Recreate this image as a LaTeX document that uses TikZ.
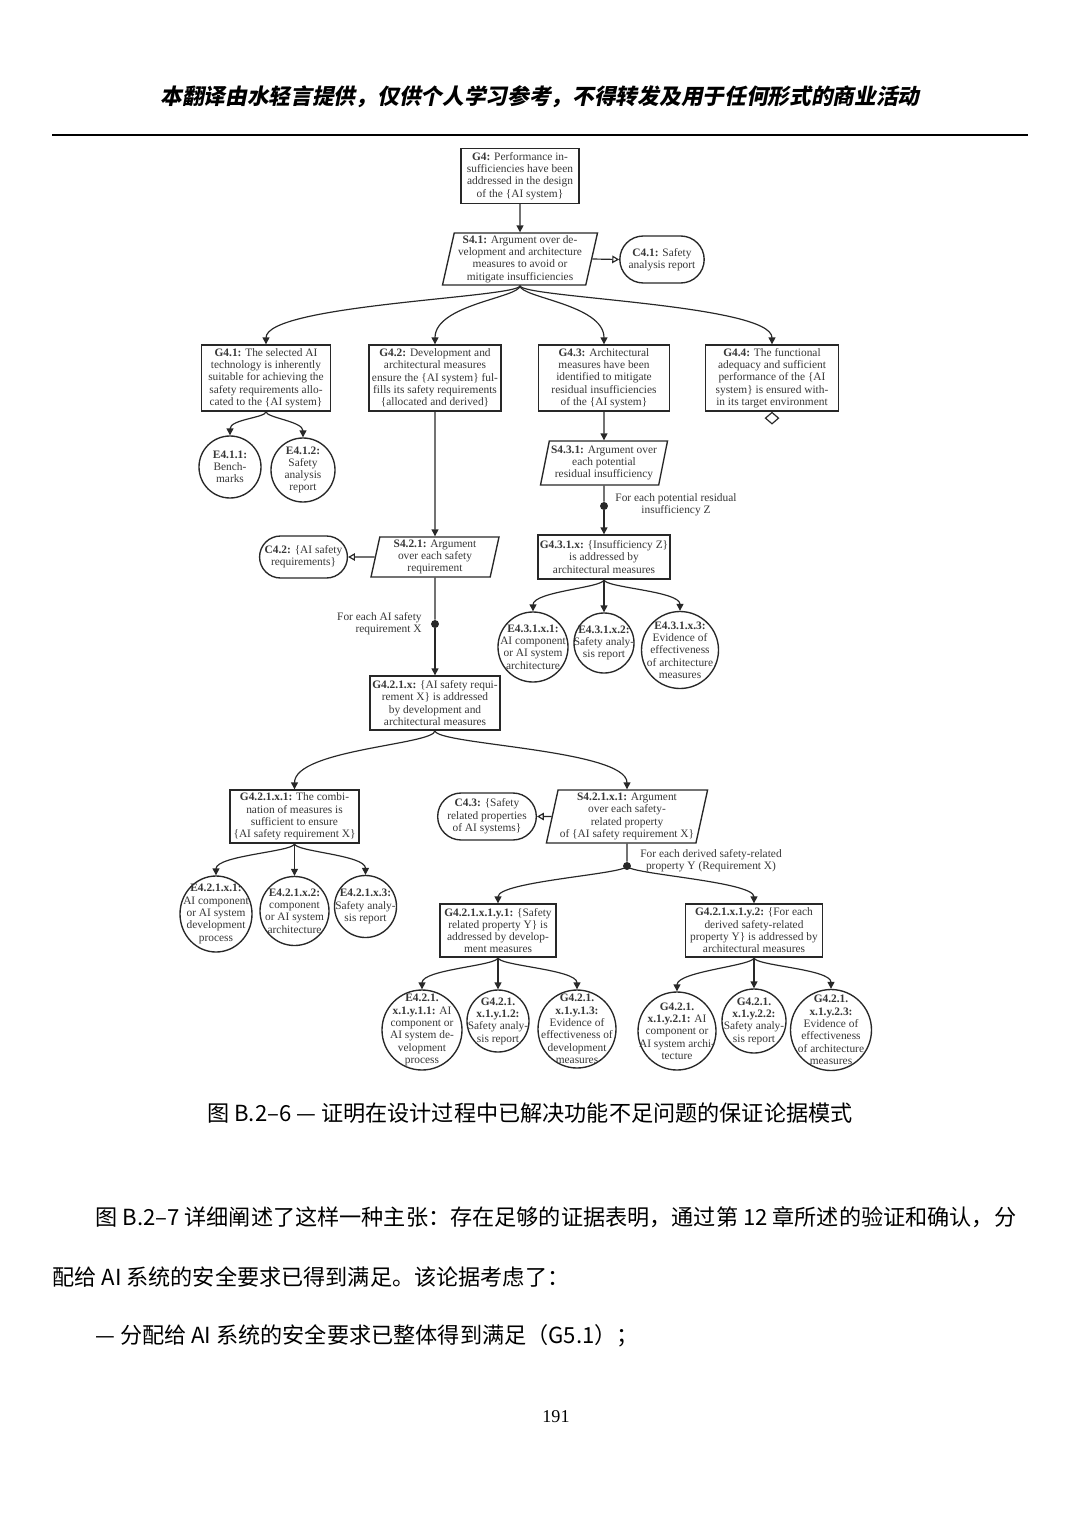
\documentclass[tikz,border=0pt]{standalone}
\usepackage{fontspec}
\setmainfont{Liberation Serif}
\newfontfamily\cjk{Noto Sans CJK SC}
\newfontfamily\cjkhead{Noto Sans CJK SC}[FakeSlant=0.2]
\usetikzlibrary{arrows.meta, shapes.geometric, shapes.misc}

\newcommand{\pxu}{0.5532pt}
\newcommand{\gsnfont}{\fontsize{6.3}{6.8}\selectfont}

\tikzset{
    gsn/.style={draw=gsnline, line width=0.75pt, fill=white, align=center, text=gsntext, font=\gsnfont, inner sep=1pt},
    goal/.style={gsn, rectangle},
    strat/.style={gsn, trapezium, trapezium left angle=77, trapezium right angle=103, trapezium stretches body},
    ctx/.style={gsn, rounded rectangle},
    evid/.style={gsn, circle, inner sep=-12pt},
    note/.style={align=center, text=gsntext, font=\gsnfont},
    fordot/.style={circle, fill=gsnline, inner sep=0pt, minimum size=4.4pt},
    link/.style={draw=gsnline, line width=0.65pt},
    arr/.style={link, -{Triangle[length=3.8pt,width=3.8pt]}},
    ctxarr/.style={link, -{Triangle[open,length=3.8pt,width=4.2pt]}},
    branch/.style 2 args={to path={.. controls +(0,#1) and +(0,-#2) .. (\tikztotarget) \tikztonodes}},
    cjkbody/.style={font=\cjk\fontsize{12.25}{14}\selectfont, inner sep=0pt}
}

\begin{document}
\begin{tikzpicture}[x=\pxu, y=-\pxu]
    \definecolor{gsnline}{RGB}{40,40,40}
    \definecolor{gsntext}{RGB}{55,55,55}

    \useasboundingbox (0,0) rectangle (1080,1527);
    \fill[white] (0,0) rectangle (1080,1527);

    % page header
    \node[font=\cjkhead\bfseries\fontsize{12}{14}\selectfont] (header) at (540,97) {本翻译由水轻言提供，仅供个人学习参考，不得转发及用于任何形式的商业活动};
    \draw[line width=1.1pt] (52,135) -- (1028,135);

    % top of the pattern
    \node[goal, minimum width=118*\pxu, minimum height=55*\pxu] (g4) at (520,176) {\textbf{G4:} Performance in-\\sufficiencies have been\\addressed in the design\\of the \{AI system\}};
    \node[strat, minimum width=155*\pxu, minimum height=52*\pxu] (s41) at (520,259) {\textbf{S4.1:} Argument over de-\\velopment and architecture\\measures to avoid or\\mitigate insufficiencies};
    \node[ctx, minimum width=88*\pxu, minimum height=47*\pxu] (c41) at (662,259.5) {\textbf{C4.1:} Safety\\analysis report};

    \node[goal, minimum width=129*\pxu, minimum height=66*\pxu] (g41) at (266,378) {\textbf{G4.1:} The selected AI\\technology is inherently\\suitable for achieving the\\safety requirements allo-\\cated to the \{AI system\}};
    \node[goal, minimum width=132*\pxu, minimum height=66*\pxu] (g42) at (435,378) {\textbf{G4.2:} Development and\\architectural measures\\ensure the \{AI system\} ful-\\fills its safety requirements\\\{allocated and derived\}};
    \node[goal, minimum width=131*\pxu, minimum height=66*\pxu] (g43) at (604,378) {\textbf{G4.3:} Architectural\\measures have been\\identified to mitigate\\residual insufficiencies\\of the \{AI system\}};
    \node[goal, minimum width=133*\pxu, minimum height=66*\pxu] (g44) at (772,378) {\textbf{G4.4:} The functional\\adequacy and sufficient\\performance of the \{AI\\system\} is ensured with-\\in its target environment};
    \node[diamond, draw=gsnline, line width=0.65pt, inner sep=0pt, minimum width=7.5pt, minimum height=6.5pt, anchor=north] (g44u) at (g44.south) {};

    % G4.1 evidence
    \node[evid, minimum size=62*\pxu] (e411) at (230,467) {\textbf{E4.1.1:}\\Bench-\\marks};
    \node[evid, minimum size=64*\pxu] (e412) at (303,470) {\textbf{E4.1.2:}\\Safety\\analysis\\report};

    % G4.3 branch
    \node[strat, minimum width=121*\pxu, minimum height=44*\pxu] (s431) at (604,463) {\textbf{S4.3.1:} Argument over\\each potential\\residual insufficiency};
    \node[fordot] (d431) at (604,506) {};
    \node[note] (n431) at (676,505) {For each potential residual\\insufficiency Z};
    \node[goal, minimum width=128*\pxu, minimum height=44*\pxu] (g431x) at (604,557) {\textbf{G4.3.1.x:} \{Insufficiency Z\}\\is addressed by\\architectural measures};
    \node[evid, minimum size=70*\pxu] (e431x1) at (533,647) {\textbf{E4.3.1.x.1:}\\AI component\\or AI system\\architecture};
    \node[evid, minimum size=60*\pxu] (e431x2) at (604,643) {\textbf{E4.3.1.x.2:}\\Safety analy-\\sis report};
    \node[evid, minimum size=77*\pxu] (e431x3) at (680,650) {\textbf{E4.3.1.x.3:}\\Evidence of\\effectiveness\\of architecture\\measures};

    % G4.2 branch
    \node[strat, minimum width=128*\pxu, minimum height=40*\pxu] (s421) at (435,557) {\textbf{S4.2.1:} Argument\\over each safety\\requirement};
    \node[ctx, minimum width=87*\pxu, minimum height=42*\pxu] (c42) at (303.5,557) {\textbf{C4.2:} \{AI safety\\requirements\}};
    \node[fordot] (d421) at (435,624) {};
    \node[note, align=right, anchor=east] (n421) at (428,624) {For each AI safety\\requirement X};
    \node[goal, minimum width=130*\pxu, minimum height=54*\pxu] (g421x) at (435,703) {\textbf{G4.2.1.x:} \{AI safety requi-\\rement X\} is addressed\\by development and\\architectural measures};

    \node[goal, minimum width=129*\pxu, minimum height=53*\pxu] (g421x1) at (294.5,816.5) {\textbf{G4.2.1.x.1:} The combi-\\nation of measures is\\sufficient to ensure\\\{AI safety requirement X\}};
    \node[ctx, minimum width=86*\pxu, minimum height=47*\pxu] (c43) at (487,816.5) {\textbf{C4.3:} \{Safety\\related properties\\of AI systems\}};
    \node[strat, minimum width=149*\pxu, minimum height=53*\pxu] (s421x1) at (627,816.5) {\textbf{S4.2.1.x.1:} Argument\\over each safety-\\related property\\of \{AI safety requirement X\}};

    \node[gsn, ellipse, inner sep=-12pt, minimum width=72*\pxu, minimum height=76*\pxu] (e421x1) at (216,914) {\textbf{E4.2.1.x.1:}\\AI component\\or AI system\\development\\process};
    \node[evid, minimum size=69*\pxu] (e421x2) at (294.5,911) {\textbf{E4.2.1.x.2:}\\component\\or AI system\\architecture};
    \node[evid, minimum size=62*\pxu] (e421x3) at (365.5,906.5) {\textbf{E4.2.1.x.3:}\\Safety analy-\\sis report};

    \node[fordot] (d421x1) at (627,866) {};
    \node[note] (n421x1) at (711,861) {For each derived safety-related\\property Y (Requirement X)};
    \node[goal, minimum width=116*\pxu, minimum height=53*\pxu] (g421x1y1) at (498,930.5) {\textbf{G4.2.1.x.1.y.1:} \{Safety\\related property Y\} is\\addressed by develop-\\ment measures};
    \node[goal, minimum width=137*\pxu, minimum height=53*\pxu] (g421x1y2) at (754,930.5) {\textbf{G4.2.1.x.1.y.2:} \{For each\\derived safety-related\\property Y\} is addressed by\\architectural measures};

    \node[evid, minimum size=80*\pxu] (e421x1y11) at (422,1030) {\textbf{E4.2.1.}\\\textbf{x.1.y.1.1:} AI\\component or\\AI system de-\\velopment\\process};
    \node[evid, minimum size=62*\pxu] (g421x1y12) at (498,1021) {\textbf{G4.2.1.}\\\textbf{x.1.y.1.2:}\\Safety analy-\\sis report};
    \node[evid, minimum size=78*\pxu] (g421x1y13) at (577,1029) {\textbf{G4.2.1.}\\\textbf{x.1.y.1.3:}\\Evidence of\\effectiveness of\\development\\measures};
    \node[evid, minimum size=78*\pxu] (g421x1y21) at (677,1031) {\textbf{G4.2.1.}\\\textbf{x.1.y.2.1:} AI\\component or\\AI system archi-\\tecture};
    \node[evid, minimum size=64*\pxu] (g421x1y22) at (754,1021) {\textbf{G4.2.1.}\\\textbf{x.1.y.2.2:}\\Safety analy-\\sis report};
    \node[evid, minimum size=81*\pxu] (g421x1y23) at (831,1030) {\textbf{G4.2.1.}\\\textbf{x.1.y.2.3:}\\Evidence of\\effectiveness\\of architecture\\measures};

    % connectors
    \draw[arr] (g4.south) -- (s41.north);
    \draw[ctxarr] (s41.east) -- (c41.west);
    \foreach \child in {g41,g42,g43,g44}
        \draw[arr] (s41.south) to[branch={12}{40}] (\child.north);
    \foreach \child in {e411,e412}
        \draw[arr] (g41.south) to[branch={6}{16}] (\child.north);

    \draw[arr] (g43.south) -- (s431.north);
    \draw[link] (s431.south) -- (d431);
    \draw[arr] (d431) -- (g431x.north);
    \foreach \child in {e431x1,e431x2,e431x3}
        \draw[arr] (g431x.south) to[branch={8}{20}] (\child.north);

    \draw[arr] (g42.south) -- (s421.north);
    \draw[ctxarr] (s421.west) -- (c42.east);
    \draw[link] (s421.south) -- (d421);
    \draw[arr] (d421) -- (g421x.north);
    \foreach \child in {g421x1,s421x1}
        \draw[arr] (g421x.south) to[branch={14}{40}] (\child.north);
    \draw[ctxarr] (s421x1.west) -- (c43.east);
    \foreach \child in {e421x1,e421x2,e421x3}
        \draw[arr] (g421x1.south) to[branch={8}{20}] (\child.north);

    \draw[link] (s421x1.south) -- (d421x1);
    \foreach \child in {g421x1y1,g421x1y2}
        \draw[arr] (d421x1.center) to[branch={8}{22}] (\child.north);
    \foreach \child in {e421x1y11,g421x1y12,g421x1y13}
        \draw[arr] (g421x1y1.south) to[branch={8}{20}] (\child.north);
    \foreach \child in {g421x1y21,g421x1y22,g421x1y23}
        \draw[arr] (g421x1y2.south) to[branch={8}{20}] (\child.north);

    % caption and running text
    \node[cjkbody] (caption) at (530,1113) {图 B.2–6 — 证明在设计过程中已解决功能不足问题的保证论据模式};
    \node[cjkbody, anchor=west] (body1) at (95,1217) {图 B.2–7 详细阐述了这样一种主张：存在足够的证据表明，通过第 12 章所述的验证和确认，分};
    \node[cjkbody, anchor=west] (body2) at (52,1277) {配给 AI 系统的安全要求已得到满足。该论据考虑了：};
    \node[cjkbody, anchor=west] (body3) at (95,1336) {— 分配给 AI 系统的安全要求已整体得到满足（G5.1）；};
    \node[font=\fontsize{10}{12}\selectfont] (pageno) at (556,1417) {191};
\end{tikzpicture}
\end{document}
